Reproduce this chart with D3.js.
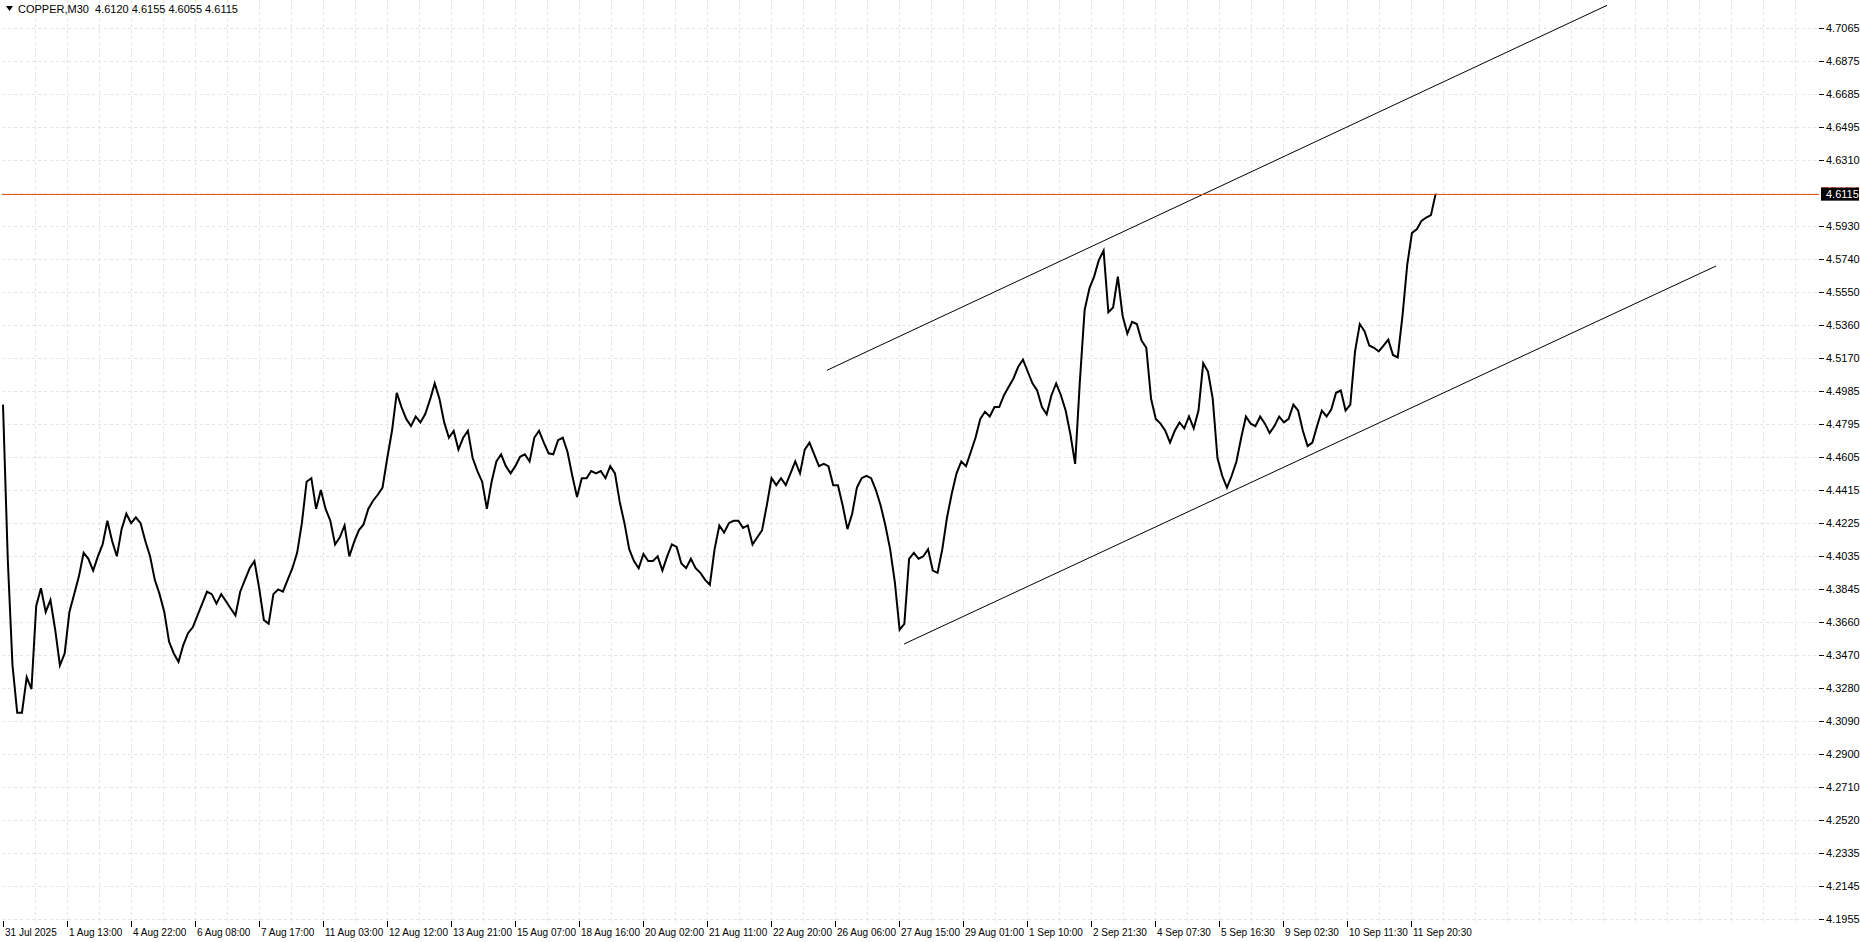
<!DOCTYPE html>
<html>
<head>
<meta charset="utf-8">
<script src="https://cdn.jsdelivr.net/npm/d3@7"></script>
<style>
body { margin: 0; background: #fff; }
svg { display: block; font-family: "Liberation Sans", Arial, sans-serif; font-size: 11px; }
</style>
</head>
<body>
<svg id="chart" width="1860" height="942"></svg>
<script>
//chart data
var symbol = "COPPER,M30",
	ohlcLast = ["4.6120", "4.6155", "4.6055", "4.6115"],
	lastPrice = 4.6115,
	askPrice = 4.6135,
	barsPerSample = 4.744, //one close read every ~4.7 bars
	timeLabels = ["31 Jul 2025", "1 Aug 13:00", "4 Aug 22:00", "6 Aug 08:00", "7 Aug 17:00", "11 Aug 03:00",
		"12 Aug 12:00", "13 Aug 21:00", "15 Aug 07:00", "18 Aug 16:00", "20 Aug 02:00", "21 Aug 11:00",
		"22 Aug 20:00", "26 Aug 06:00", "27 Aug 15:00", "29 Aug 01:00", "1 Sep 10:00", "2 Sep 21:30",
		"4 Sep 07:30", "5 Sep 16:30", "9 Sep 02:30", "10 Sep 11:30", "11 Sep 20:30"],
	barsPerLabel = 64,
	priceTicks = [4.7065, 4.6875, 4.6685, 4.6495, 4.6310, 4.5930, 4.5740, 4.5550, 4.5360, 4.5170,
		4.4985, 4.4795, 4.4605, 4.4415, 4.4225, 4.4035, 4.3845, 4.3660, 4.3470, 4.3280, 4.3090,
		4.2900, 4.2710, 4.2520, 4.2335, 4.2145, 4.1955],
	gridTicks = [4.7065, 4.6875, 4.6685, 4.6495, 4.6310, 4.6120, 4.5930, 4.5740, 4.5550, 4.5360, 4.5170,
		4.4985, 4.4795, 4.4605, 4.4415, 4.4225, 4.4035, 4.3845, 4.3660, 4.3470, 4.3280, 4.3090,
		4.2900, 4.2710, 4.2520, 4.2335, 4.2145, 4.1955],
	closes = [4.4905, 4.4021, 4.3410, 4.3138, 4.3138, 4.3342, 4.3274, 4.3750, 4.3852, 4.3716,
		4.3784, 4.3614, 4.3410, 4.3478, 4.3716, 4.3818, 4.3920, 4.4055, 4.4021, 4.3953,
		4.4035, 4.4103, 4.4239, 4.4123, 4.4035, 4.4191, 4.4279, 4.4225, 4.4259, 4.4225,
		4.4123, 4.4035, 4.3900, 4.3818, 4.3716, 4.3546, 4.3478, 4.3430, 4.3526, 4.3594,
		4.3628, 4.3696, 4.3764, 4.3832, 4.3818, 4.3764, 4.3818, 4.3777, 4.3736, 4.3696,
		4.3832, 4.3900, 4.3967, 4.4008, 4.3852, 4.3669, 4.3648, 4.3818, 4.3845, 4.3832,
		4.3900, 4.3967, 4.4055, 4.4225, 4.4463, 4.4483, 4.4307, 4.4415, 4.4307, 4.4239,
		4.4103, 4.4144, 4.4212, 4.4035, 4.4116, 4.4184, 4.4218, 4.4307, 4.4354, 4.4388,
		4.4429, 4.4599, 4.4755, 4.4973, 4.4891, 4.4823, 4.4782, 4.4837, 4.4803, 4.4851,
		4.4932, 4.5027, 4.4939, 4.4803, 4.4715, 4.4755, 4.4647, 4.4715, 4.4755, 4.4599,
		4.4524, 4.4463, 4.4307, 4.4463, 4.4579, 4.4620, 4.4552, 4.4511, 4.4552, 4.4606,
		4.4620, 4.4579, 4.4715, 4.4755, 4.4687, 4.4626, 4.4620, 4.4701, 4.4715, 4.4633,
		4.4497, 4.4375, 4.4483, 4.4483, 4.4524, 4.4511, 4.4524, 4.4483, 4.4552, 4.4511,
		4.4347, 4.4225, 4.4076, 4.4008, 4.3967, 4.4048, 4.4008, 4.4008, 4.4035, 4.3953,
		4.4035, 4.4103, 4.4089, 4.3994, 4.3967, 4.4021, 4.3967, 4.3940, 4.3900, 4.3872,
		4.4076, 4.4212, 4.4171, 4.4225, 4.4239, 4.4239, 4.4198, 4.4212, 4.4103, 4.4144,
		4.4184, 4.4327, 4.4483, 4.4443, 4.4483, 4.4443, 4.4511, 4.4579, 4.4511, 4.4647,
		4.4687, 4.4620, 4.4552, 4.4565, 4.4552, 4.4443, 4.4443, 4.4327, 4.4191, 4.4279,
		4.4429, 4.4483, 4.4497, 4.4483, 4.4415, 4.4327, 4.4212, 4.4076, 4.3886, 4.3614,
		4.3648, 4.4021, 4.4055, 4.4021, 4.4035, 4.4076, 4.3953, 4.3940, 4.4076, 4.4259,
		4.4395, 4.4511, 4.4579, 4.4552, 4.4633, 4.4715, 4.4823, 4.4864, 4.4837, 4.4891,
		4.4891, 4.4959, 4.5007, 4.5055, 4.5122, 4.5163, 4.5095, 4.5027, 4.4986, 4.4891,
		4.4850, 4.4959, 4.5027, 4.4959, 4.4871, 4.4735, 4.4565, 4.5041, 4.5448, 4.5571,
		4.5639, 4.5734, 4.5788, 4.5435, 4.5462, 4.5639, 4.5414, 4.5312, 4.5380, 4.5367,
		4.5272, 4.5231, 4.4939, 4.4823, 4.4796, 4.4755, 4.4687, 4.4755, 4.4803, 4.4769,
		4.4837, 4.4769, 4.4871, 4.5142, 4.5095, 4.4939, 4.4599, 4.4497, 4.4429, 4.4497,
		4.4579, 4.4715, 4.4837, 4.4796, 4.4782, 4.4837, 4.4796, 4.4742, 4.4782, 4.4837,
		4.4803, 4.4823, 4.4905, 4.4871, 4.4755, 4.4667, 4.4687, 4.4782, 4.4871, 4.4837,
		4.4878, 4.4973, 4.4986, 4.4871, 4.4905, 4.5210, 4.5367, 4.5326, 4.5244, 4.5231,
		4.5210, 4.5244, 4.5278, 4.5190, 4.5176, 4.5414, 4.5706, 4.5890, 4.5910, 4.5958,
		4.5978, 4.5992, 4.6115],
	//trend channel: [bar, price] end points
	upperChannel = [[824, 4.5102], [1604, 4.7195]],
	lowerChannel = [[901, 4.3532], [1713, 4.5700]];

var svg = d3.select("#chart"),
	left = 2, right = 1819, top = 0, bottom = 921;

var x = d3.scaleLinear().domain([0, 1816]).range([left + 1, left + 1 + 1816]);
var y = d3.scaleLinear().domain([4.1955, 4.7065]).range([919, 28]);

//grid
var grid = svg.append("g").attr("stroke", "#e4e4e4").attr("stroke-dasharray", "3,3");
grid.selectAll("line.h").data(gridTicks).enter().append("line")
	.attr("x1", left).attr("x2", right)
	.attr("y1", function(d){ return Math.round(y(d)) + 0.5; })
	.attr("y2", function(d){ return Math.round(y(d)) + 0.5; });
var vgrid = d3.range(32, 1816, 32);
grid.selectAll("line.v").data(vgrid).enter().append("line")
	.attr("y1", top).attr("y2", bottom)
	.attr("x1", function(d){ return Math.round(x(d)) + 0.5; })
	.attr("x2", function(d){ return Math.round(x(d)) + 0.5; });

//price line
var line = d3.line()
	.x(function(d, i){ return x(i * barsPerSample); })
	.y(function(d){ return y(d); });
svg.append("path").datum(closes)
	.attr("d", line)
	.attr("fill", "none")
	.attr("stroke", "#000")
	.attr("stroke-width", 2);

//channel lines
[upperChannel, lowerChannel].forEach(function(c){
	svg.append("line")
		.attr("x1", x(c[0][0])).attr("y1", y(c[0][1]))
		.attr("x2", x(c[1][0])).attr("y2", y(c[1][1]))
		.attr("stroke", "#000").attr("stroke-width", 1);
});

//last price line
svg.append("line")
	.attr("x1", left).attr("x2", right)
	.attr("y1", Math.round(y(lastPrice)) + 0.5).attr("y2", Math.round(y(lastPrice)) + 0.5)
	.attr("stroke", "#e8501e").attr("stroke-width", 1);

//frame
svg.append("path")
	.attr("d", "M" + (left + 0.5) + "," + top + "V" + (bottom + 0.5) + "H" + (right + 0.5) + "V" + top)
	.attr("fill", "none").attr("stroke", "#000");

//price axis
var yAxis = svg.append("g");
yAxis.selectAll("line").data(priceTicks).enter().append("line")
	.attr("x1", right).attr("x2", right + 5)
	.attr("y1", function(d){ return Math.round(y(d)) + 0.5; })
	.attr("y2", function(d){ return Math.round(y(d)) + 0.5; })
	.attr("stroke", "#000");
yAxis.selectAll("text").data(priceTicks).enter().append("text")
	.attr("x", right + 7)
	.attr("y", function(d){ return y(d) + 4; })
	.attr("fill", "#000")
	.text(function(d){ return d.toFixed(4); });

//ask / bid labels
svg.append("rect").attr("x", right + 2).attr("y", y(askPrice) - 3).attr("width", 38).attr("height", 8).attr("fill", "#f04a12");
svg.append("text").attr("x", right + 7).attr("y", y(askPrice) + 4).attr("fill", "#fff").text(askPrice.toFixed(4));
svg.append("rect").attr("x", right + 2).attr("y", y(lastPrice) - 6).attr("width", 38).attr("height", 13).attr("fill", "#000");
svg.append("text").attr("x", right + 7).attr("y", y(lastPrice) + 4).attr("fill", "#fff").text(lastPrice.toFixed(4));

//time axis
var xAxis = svg.append("g").style("font-size", "10px");
xAxis.selectAll("line").data(timeLabels).enter().append("line")
	.attr("x1", function(d, i){ return Math.round(x(i * barsPerLabel)) + 0.5; })
	.attr("x2", function(d, i){ return Math.round(x(i * barsPerLabel)) + 0.5; })
	.attr("y1", bottom).attr("y2", bottom + 6)
	.attr("stroke", "#000");
xAxis.selectAll("text").data(timeLabels).enter().append("text")
	.attr("x", function(d, i){ return x(i * barsPerLabel) + 2; })
	.attr("y", bottom + 15)
	.attr("fill", "#000")
	.text(function(d){ return d; });

//header
svg.append("path").attr("d", "M6,6H13L9.5,11Z").attr("fill", "#000");
svg.append("text").attr("x", 18).attr("y", 13).attr("fill", "#000")
	.attr("xml:space", "preserve")
	.text(symbol + "  " + ohlcLast.join(" "));
</script>
</body>
</html>
